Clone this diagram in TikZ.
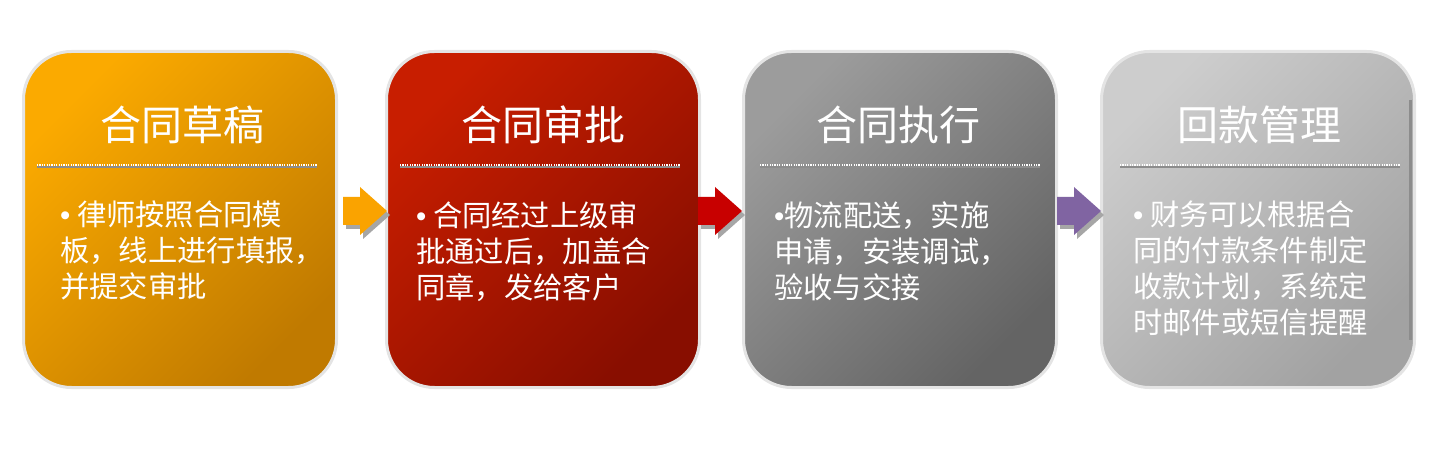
\documentclass[tikz,border=0pt]{standalone}
\usepackage{fontspec}
\newfontfamily\cjk{Noto Sans CJK SC}
\newfontfamily\lat{Liberation Sans}
\newcommand{\bul}{{\lat •}}
\definecolor{borderg}{HTML}{E4E4E4}
\definecolor{c1a}{HTML}{FBAA00}\definecolor{c1b}{HTML}{C07A00}
\definecolor{c2a}{HTML}{C81E00}\definecolor{c2b}{HTML}{880E00}
\definecolor{c3a}{HTML}{9C9C9C}\definecolor{c3b}{HTML}{646464}
\definecolor{c4a}{HTML}{CDCDCD}\definecolor{c4b}{HTML}{A2A2A2}
\definecolor{ar1}{HTML}{FAA300}\definecolor{ar2}{HTML}{C80000}\definecolor{ar3}{HTML}{8064A2}
\tikzset{
  stagebox/.style 2 args={draw=borderg, line width=3pt, rounded corners=48pt,
    minimum width=313pt, minimum height=336pt, inner sep=0pt,
    top color=#1, bottom color=#2, shading angle=45},
  titletext/.style={text=white, font=\cjk\fontsize{41}{44}\selectfont, inner sep=0pt},
  bodytext/.style={text=white, font=\cjk\fontsize{29.3}{36}\selectfont, align=left, anchor=north west, inner sep=0pt},
  dotshadow/.style={draw=black!45, line width=2pt},
  dotline/.style={draw=white, line width=2pt, dash pattern=on 1.2pt off 1.2pt},
}
\begin{document}
\begin{tikzpicture}[x=1pt,y=-1pt]
\useasboundingbox (0,0) rectangle (1440,470);
% boxes
\node[stagebox={c1a}{c1b}] (b1) at (180,219.5) {};
\node[stagebox={c2a}{c2b}] (b2) at (543,219.5) {};
\node[stagebox={c3a}{c3b}] (b3) at (900,219.5) {};
\node[stagebox={c4a}{c4b}] (b4) at (1258,219.5) {};
\fill[black!45] (1408.5,100) rectangle (1412,340);
% titles
\node[titletext] (t1) at (182,125) {合同草稿};
\node[titletext] (t2) at (543,125) {合同审批};
\node[titletext] (t3) at (898,125) {合同执行};
\node[titletext] (t4) at (1259,125) {回款管理};
% dotted rules
\foreach \cx in {177,540,900,1260}{
  \draw[dotshadow] (\cx-140,167) -- (\cx+140,167);
  \draw[dotline] (\cx-140,165.5) -- (\cx+140,165.5);
}
% body texts
\node[bodytext] (x1) at (60,201) {\bul\ 律师按照合同模\\板，线上进行填报，\\并提交审批};
\node[bodytext] (x2) at (416,201) {\bul\ 合同经过上级审\\批通过后，加盖合\\同章，发给客户};
\node[bodytext] (x3) at (774,201) {\bul 物流配送，实施\\申请，安装调试，\\验收与交接};
\node[bodytext] (x4) at (1133,201) {\bul\ 财务可以根据合\\同的付款条件制定\\收款计划，系统定\\时邮件或短信提醒};
% arrows
\foreach \ax/\col in {343/ar1,698/ar2,1057/ar3}{
  \fill[black!35] (\ax+3,201) -- (\ax+20,201) -- (\ax+20,191) -- (\ax+47,215) -- (\ax+20,239) -- (\ax+20,229) -- (\ax+3,229) -- cycle;
  \fill[\col] (\ax,197) -- (\ax+17,197) -- (\ax+17,187) -- (\ax+44,211) -- (\ax+17,235) -- (\ax+17,225) -- (\ax,225) -- cycle;
}
\end{tikzpicture}
\end{document}
